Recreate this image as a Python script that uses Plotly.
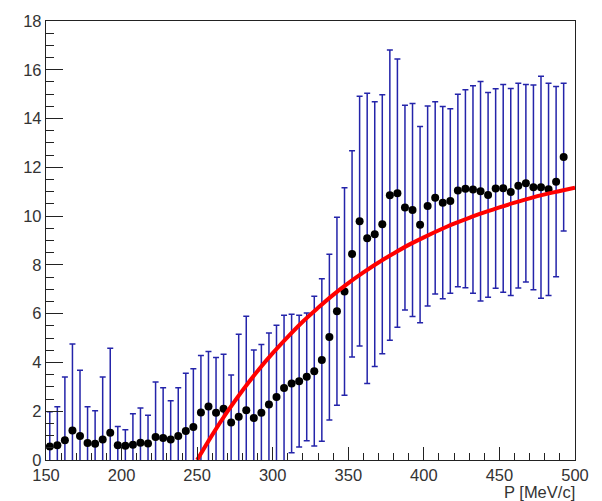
import plotly.graph_objects as go

# Bin centres (MeV/c)
p_centers = [152.5, 157.5, 162.5, 167.5, 172.5, 177.5, 182.5, 187.5, 192.5, 197.5,
             202.5, 207.5, 212.5, 217.5, 222.5, 227.5, 232.5, 237.5, 242.5, 247.5,
             252.5, 257.5, 262.5, 267.5, 272.5, 277.5, 282.5, 287.5, 292.5, 297.5,
             302.5, 307.5, 312.5, 317.5, 322.5, 327.5, 332.5, 337.5, 342.5, 347.5,
             352.5, 357.5, 362.5, 367.5, 372.5, 377.5, 382.5, 387.5, 392.5, 397.5,
             402.5, 407.5, 412.5, 417.5, 422.5, 427.5, 432.5, 437.5, 442.5, 447.5,
             452.5, 457.5, 462.5, 467.5, 472.5, 477.5, 482.5, 487.5, 492.5]

values = [0.55, 0.60, 0.81, 1.21, 0.98, 0.70, 0.67, 0.84, 1.12, 0.60,
          0.58, 0.63, 0.71, 0.68, 0.94, 0.90, 0.84, 0.98, 1.19, 1.35,
          1.95, 2.19, 1.94, 2.10, 1.54, 1.77, 2.04, 1.72, 1.94, 2.28,
          2.58, 2.95, 3.14, 3.23, 3.41, 3.64, 4.10, 5.04, 6.10, 6.91,
          8.45, 9.79, 9.09, 9.26, 9.67, 10.86, 10.94, 10.35, 10.25, 9.65,
          10.41, 10.75, 10.55, 10.62, 11.05, 11.12, 11.09, 11.02, 10.87, 11.13,
          11.14, 10.99, 11.25, 11.35, 11.18, 11.18, 11.10, 11.41, 12.42]

errors = [1.43, 1.58, 2.59, 3.55, 2.70, 1.48, 1.35, 2.56, 3.46, 0.77,
          0.66, 1.27, 1.42, 1.15, 2.26, 2.06, 1.59, 1.98, 2.37, 2.39,
          2.33, 2.26, 2.26, 2.24, 1.95, 3.39, 3.85, 2.79, 2.80, 2.93,
          2.94, 2.98, 2.84, 2.70, 2.62, 3.07, 3.33, 3.40, 3.85, 4.25,
          4.23, 5.12, 5.95, 5.43, 5.31, 5.95, 5.50, 4.20, 4.37, 4.02,
          4.10, 3.94, 3.94, 3.78, 3.95, 4.06, 4.25, 4.50, 4.20, 4.09,
          4.26, 4.24, 4.20, 4.05, 4.20, 4.55, 4.35, 3.90, 3.03]

# Fit curve
fit_p = [250, 260, 270, 280, 290, 300, 310, 320, 330, 340, 350, 360, 370,
         380, 390, 400, 410, 420, 430, 440, 450, 460, 470, 480, 490, 500]
fit_vals = [0.0, 1.03, 1.98, 2.85, 3.65, 4.38, 5.05, 5.68, 6.24, 6.77, 7.25,
            7.69, 8.10, 8.47, 8.82, 9.13, 9.42, 9.69, 9.93, 10.15, 10.36,
            10.55, 10.73, 10.89, 11.03, 11.17]

x_range = [150, 500]
y_range = [0, 18]
x_title = "P [MeV/c]"

fig = go.Figure()
fig.add_trace(go.Scatter(
    x=p_centers, y=values, mode="markers",
    marker=dict(color="black", size=8),
    error_y=dict(type="data", array=errors, symmetric=True,
                 color="#2424aa", thickness=1.5, width=3),
    showlegend=False,
))
fig.add_trace(go.Scatter(
    x=fit_p, y=fit_vals, mode="lines",
    line=dict(color="#ff0000", width=4, shape="spline"),
    showlegend=False,
))

font = dict(family="Liberation Sans, Arial, sans-serif", size=16.5, color="#333")
axis_common = dict(showgrid=False, zeroline=False, showline=True, mirror=True,
                   linecolor="#222", linewidth=1.4, ticks="inside",
                   tickcolor="#222", tickwidth=1.3, tickfont=font)

fig.update_xaxes(range=x_range, tick0=150, dtick=50, ticklen=13,
                 minor=dict(dtick=10, ticklen=7, ticks="inside",
                            tickcolor="#222", tickwidth=1.3),
                 **axis_common)
fig.update_yaxes(range=y_range, tick0=0, dtick=2, ticklen=17,
                 minor=dict(dtick=0.5, ticklen=8, ticks="inside",
                            tickcolor="#222", tickwidth=1.3),
                 **axis_common)

fig.add_annotation(text=x_title, xref="paper", yref="paper", x=1.004, y=-0.072,
                   xanchor="right", yanchor="middle", showarrow=False,
                   font=font)

fig.update_layout(width=602, height=501,
                  margin=dict(l=46, r=27, t=15, b=41),
                  paper_bgcolor="white", plot_bgcolor="white")

fig.write_html("out.html")
